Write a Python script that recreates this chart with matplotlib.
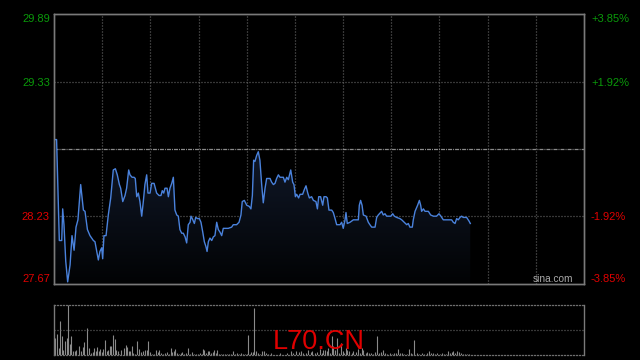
import numpy as np
import matplotlib
matplotlib.use('Agg')
import matplotlib.pyplot as plt
from matplotlib.colors import LinearSegmentedColormap

plt.rcParams['font.family'] = ['Liberation Sans', 'DejaVu Sans']
plt.rcParams['lines.scale_dashes'] = False

# ---------------- data ----------------
prev_close = 28.78
y_min, y_max = 27.67, 29.89
session_minutes = 330
grid_step = 30

price_times = [0.0, 1.6, 3.3, 4.8, 5.4, 6.2, 7.3, 8.5, 10.0, 11.2, 12.5, 13.7, 14.9, 16.6,
               18.3, 19.3, 20.8, 22.4, 24.5, 25.5, 27.6, 28.6, 29.7, 30.3, 31.1, 32.4, 33.8,
               35.3, 36.9, 38.2, 39.4, 40.7, 41.5, 42.8, 44.2, 45.2, 46.5, 47.3, 48.6, 49.8,
               50.6, 51.5, 52.5, 53.5, 54.6, 55.6, 56.6, 57.7, 58.5, 59.8, 60.8, 62.3,
               63.9, 65.4, 66.6, 67.4, 68.3, 69.1, 70.4, 71.2, 72.2, 73.3, 74.3, 75.3, 76.4,
               77.4, 78.4, 79.5, 80.5, 81.6, 82.6, 83.6, 84.7, 85.3, 86.1, 87.4, 88.2, 89.4,
               90.5, 91.5, 92.6, 93.6, 94.6, 95.3, 96.1, 97.1, 98.2, 99.2, 100.2, 101.3,
               102.3, 103.3, 104.4, 105.4, 106.5, 108.5, 110.6, 111.6, 113.7, 115.2, 116.4,
               117.2, 118.5, 120.0, 121.6, 122.6, 123.5, 124.3, 125.1, 126.2, 127.2, 128.2,
               129.3, 130.3, 131.4, 132.4, 134.5, 135.5, 136.6, 137.6, 138.6, 139.7, 140.7,
               142.8, 143.8, 144.9, 145.9, 147.4, 148.6, 149.4, 150.3, 151.1, 152.3, 153.2,
               154.8, 155.9, 156.9, 158.0, 159.0, 160.4, 161.5, 163.1, 164.0, 164.8, 166.0,
               167.3, 168.1, 169.4, 170.2, 171.2, 172.9, 173.9, 175.0, 176.0, 178.1, 179.1,
               180.1, 181.2, 181.8, 182.6, 184.3, 186.4, 189.5, 190.1, 190.9, 191.8, 192.6,
               194.3, 195.7, 196.7, 197.8, 199.9, 200.9, 201.9, 204.0, 205.0, 206.1, 207.1,
               209.8, 210.9, 211.9, 213.3, 215.4, 216.5, 218.1, 219.6, 220.6, 221.6, 223.1,
               223.7, 224.8, 226.4, 227.5, 228.3, 228.9, 230.0, 231.0, 233.1, 234.5, 236.2,
               238.2, 239.7, 240.9, 242.4, 247.6, 248.6, 249.7, 250.7, 251.7, 252.8, 253.8,
               254.8, 256.9, 258.4, 259.2]

prices = [28.86, 28.86, 28.03, 28.03, 28.29, 28.16, 27.86, 27.69, 27.83, 28.07, 27.95, 28.14,
          28.20, 28.49, 28.28, 28.27, 28.12, 28.07, 28.03, 28.02, 27.87, 27.94, 27.97, 27.88,
          28.07, 28.07, 28.24, 28.38, 28.61, 28.62, 28.57, 28.49, 28.46, 28.35, 28.40, 28.46,
          28.61, 28.57, 28.55, 28.55, 28.54, 28.39, 28.42, 28.35, 28.23, 28.35, 28.49, 28.57,
          28.42, 28.42, 28.50, 28.50,
          28.42, 28.40, 28.40, 28.44, 28.42, 28.46, 28.46, 28.39, 28.46, 28.50, 28.55, 28.28,
          28.24, 28.23, 28.12, 28.09, 28.09, 28.06, 28.01, 28.16, 28.18, 28.23, 28.21, 28.17,
          28.22, 28.21, 28.21, 28.18, 28.10, 28.02, 27.98, 27.94, 28.02, 28.05, 28.03, 28.06,
          28.07, 28.18, 28.12, 28.10, 28.07, 28.13, 28.13, 28.13, 28.14, 28.16, 28.16, 28.18,
          28.24, 28.35, 28.36, 28.32, 28.31, 28.29, 28.40, 28.69, 28.68, 28.73, 28.76, 28.69,
          28.49, 28.34, 28.46, 28.54, 28.54, 28.51, 28.49, 28.50, 28.54, 28.57, 28.55, 28.55,
          28.51, 28.55, 28.53, 28.61, 28.51, 28.49, 28.39, 28.41, 28.38, 28.41, 28.41, 28.45,
          28.48, 28.42, 28.38, 28.39, 28.36, 28.35, 28.29, 28.39, 28.39, 28.32, 28.39, 28.39,
          28.38, 28.28, 28.28, 28.26, 28.21, 28.16, 28.16, 28.18, 28.13, 28.20, 28.26, 28.17,
          28.18, 28.20, 28.20, 28.32, 28.36, 28.32, 28.24, 28.23, 28.18, 28.16, 28.14, 28.14,
          28.22, 28.24, 28.27, 28.24, 28.25, 28.23, 28.23, 28.25, 28.23, 28.22, 28.21, 28.20,
          28.18, 28.16, 28.17, 28.14, 28.14, 28.20, 28.27, 28.32, 28.36, 28.32, 28.27, 28.29,
          28.27, 28.27, 28.24, 28.23, 28.23, 28.25, 28.23, 28.20, 28.20, 28.18, 28.17, 28.21,
          28.20, 28.22, 28.23, 28.22, 28.22, 28.19, 28.17]

vol_times = [0.6, 2.1, 3.3, 3.9, 5.2, 5.8, 7.1, 8.3, 8.9, 10.2, 10.8, 12.0, 13.1, 13.9, 15.8,
             16.8, 18.3, 18.9, 20.7, 22.0, 23.2, 24.5, 25.1, 25.9, 27.0, 28.2, 28.8, 29.7,
             30.7, 32.0, 33.2, 33.8, 35.1, 35.7, 36.9, 38.2, 38.8, 39.8, 40.7, 41.9, 43.8,
             45.0, 45.6, 46.9, 47.5, 48.8, 49.4, 50.6, 51.9, 53.1, 54.4, 55.6, 56.9, 58.1,
             58.7, 60.0, 61.2, 62.5, 63.7, 65.0, 65.6, 66.8, 68.1, 69.3, 70.1, 71.4, 73.0,
             73.7, 74.9, 75.5, 76.8, 78.0, 79.1, 79.9, 81.1, 82.4, 83.6, 84.9, 86.1, 87.4,
             88.6, 89.9, 91.1, 91.9, 93.0, 93.6, 94.8, 96.1, 96.7, 98.0, 99.2, 99.8, 101.1,
             101.7, 102.9, 104.2, 105.4, 106.6, 107.9, 109.1, 110.4, 111.2, 112.5, 113.7,
             115.0, 116.2, 117.5, 118.7, 119.9, 121.0, 122.2, 122.8, 124.1, 124.7, 126.0,
             127.2, 128.4, 129.7, 130.9, 132.2, 133.4, 134.9,
             140.7, 145.3, 147.4, 149.0, 150.7, 152.8, 154.0, 155.2, 156.9, 158.4, 159.8,
             160.8, 162.5, 164.0, 165.6, 166.6, 167.7, 168.9, 170.0, 170.8, 171.8, 172.9,
             173.9, 175.0, 176.0, 177.2, 178.5, 179.7, 180.6, 181.8, 182.6, 183.9, 185.3,
             186.4, 188.0, 189.5, 190.5, 191.5, 192.6, 194.3, 195.1, 196.3, 197.4, 198.8,
             200.1, 201.3, 202.5, 203.8, 204.6, 206.1, 207.5, 209.2, 210.4, 211.7, 212.9,
             214.4, 215.4, 216.4, 218.1, 219.6, 221.0, 222.1, 223.1, 224.3, 225.8, 227.4,
             228.9, 230.4, 232.0, 233.3, 234.5, 235.7, 237.2, 238.6, 240.3, 241.6, 242.8,
             244.1, 245.5, 246.5, 247.6, 248.6, 249.9, 251.1, 252.4, 253.6, 254.9, 255.9,
             257.0, 258.2]

volumes = [33, 42, 13, 68, 37, 10, 27, 33, 100, 22, 38, 8, 8, 10, 18, 8, 15, 25, 53, 13, 3, 5,
           13, 7, 15, 8, 11, 5, 11, 30, 7, 9, 17, 18, 40, 32, 10, 8, 2, 10, 13, 20, 15, 8, 8,
           17, 3, 2, 27, 11, 5, 7, 9, 10, 28, 5, 2, 2, 9, 5, 10, 3, 2, 3, 6, 2, 13, 5, 7, 11,
           3, 1, 3, 6, 2, 3, 13, 2, 6, 2, 2, 2, 3, 2, 11, 10, 3, 7, 8, 3, 6, 9, 3, 10, 2, 2,
           2, 2, 2, 2, 2, 8, 2, 3, 2, 3, 2, 2, 2, 40, 2, 5, 5, 93, 8, 3, 2, 7, 8, 3, 2, 3,
           3, 3, 7, 3, 8, 5, 7, 3, 3, 10, 5, 7, 3, 5, 11, 3, 10, 10, 7, 13, 3, 37, 17, 10, 33,
           3, 23, 7, 3, 13, 10, 7, 3, 7, 5, 11, 3, 13, 10, 3, 5, 3, 3, 2, 5, 37, 3, 5, 10, 3,
           2, 3, 2, 3, 3, 11, 3, 3, 2, 2, 11, 3, 2, 29, 3, 2, 3, 2, 3, 7, 3, 3, 2, 3, 2, 3, 2,
           2, 8, 3, 5, 8, 3, 8, 5, 3, 2, 2, 2, 2]
vol_max = 100

left_ticks = [29.89, 29.33, 28.23, 27.67]
left_labels = ['29.89', '29.33', '28.23', '27.67']
right_labels = ['+3.85%', '+1.92%', '-1.92%', '-3.85%']
symbol = 'L70.CN'
watermark = 'sina.com'

# ---------------- style ----------------
green = '#0a9a0a'
red = '#e00000'
grid_c = '#6e6e6e'
spine_c = '#7a7a7a'
dot = (0, (0.72, 1.44))

fig = plt.figure(figsize=(6.4, 3.6), dpi=100, facecolor='black')
ax = fig.add_axes([0.0844, 0.2103, 0.8281, 0.75])
axv = fig.add_axes([0.0844, 0.0139, 0.8281, 0.1389])

for a in (ax, axv):
    a.set_facecolor('black')
    a.set_xlim(0, session_minutes)
    a.set_xticks([])

ax.set_ylim(y_min, y_max)

# gridlines
for t in range(grid_step, session_minutes, grid_step):
    ax.axvline(t, color=grid_c, lw=0.9, ls=dot, zorder=0.5)
for yv in left_ticks[1:-1]:
    ax.axhline(yv, color=grid_c, lw=0.9, ls=dot, zorder=0.5)
ax.axhline(prev_close, color='#8a8a8a', lw=0.9, ls=(0, (2.9, 0.72, 0.72, 0.72)), zorder=0.5)

# gradient fill under price line
poly = ax.fill_between(price_times, prices, y_min, color='none', lw=0)
cmap = LinearSegmentedColormap.from_list('fill', ['#020304', '#111a2c'])
grad = np.linspace(0, 1, 256).reshape(-1, 1)
im = ax.imshow(grad, extent=[price_times[0], price_times[-1], y_min, max(prices)],
               aspect='auto', cmap=cmap, origin='lower', zorder=1)
im.set_clip_path(poly.get_paths()[0], transform=ax.transData)

ax.plot(price_times, prices, color='#4a82dc', lw=1.0, zorder=3)
ax.set_xlim(0, session_minutes)
ax.set_ylim(y_min, y_max)

for s in ax.spines.values():
    s.set_color(spine_c)
    s.set_linewidth(1.0)

# left labels
ax.set_yticks(left_ticks, labels=left_labels)
ax.tick_params(axis='y', length=0, pad=3, labelsize=8)
colors = [green if v > prev_close else red for v in left_ticks]
for lab, c in zip(ax.get_yticklabels(), colors):
    lab.set_color(c)
ticks = ax.yaxis.get_major_ticks()
ticks[0].label1.set_va('top')
ticks[-1].label1.set_va('bottom')

# right labels
axr = ax.twinx()
axr.set_ylim(y_min, y_max)
axr.set_yticks(left_ticks, labels=right_labels)
axr.tick_params(axis='y', length=0, pad=5, labelsize=8)
for lab, c in zip(axr.get_yticklabels(), colors):
    lab.set_color(c)
rt = axr.yaxis.get_major_ticks()
rt[0].label2.set_va('top')
rt[-1].label2.set_va('bottom')
for s in axr.spines.values():
    s.set_color(spine_c)
    s.set_linewidth(1.0)

ax.text(0.979, 0.019, watermark, transform=ax.transAxes, ha='right', va='center',
        color='#aaaaaa', fontsize=7.3, zorder=4)

# volume panel
axv.vlines(vol_times, 0, volumes, color='#8a8a8a', lw=0.8)
axv.set_ylim(0, vol_max)
axv.set_yticks([])
axv.axhline(vol_max / 2, color=grid_c, lw=0.9, ls=dot)
for k in ('left', 'right'):
    axv.spines[k].set_color(spine_c)
    axv.spines[k].set_linewidth(1.0)
for k in ('top', 'bottom'):
    axv.spines[k].set_color(grid_c)
    axv.spines[k].set_linewidth(0.9)
    axv.spines[k].set_linestyle(dot)

fig.text(0.4984, 0.0306, symbol, color=red, fontsize=19.5, ha='center', va='baseline')

fig.savefig('out.png', dpi=100, facecolor='black')
